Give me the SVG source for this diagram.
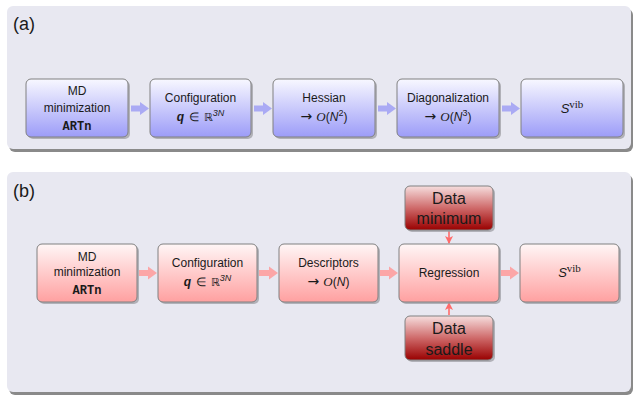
<svg xmlns="http://www.w3.org/2000/svg" width="634" height="395" viewBox="0 0 634 395">
<defs>
<linearGradient id="gBlue" x1="0" y1="0" x2="0" y2="1"><stop offset="0" stop-color="#f8f8ff"/><stop offset="1" stop-color="#9c9cf8"/></linearGradient>
<linearGradient id="gRed" x1="0" y1="0" x2="0" y2="1"><stop offset="0" stop-color="#fff6f6"/><stop offset="1" stop-color="#ffa0a0"/></linearGradient>
<linearGradient id="gData" x1="0" y1="0" x2="0" y2="1"><stop offset="0" stop-color="#f6dede"/><stop offset="0.5" stop-color="#cf6a6a"/><stop offset="1" stop-color="#990000"/></linearGradient>
<marker id="mh" markerWidth="8" markerHeight="8" refX="7" refY="4" orient="auto" markerUnits="userSpaceOnUse"><path d="M0,0 L8,4 L0,8 L2,4 Z" fill="#ff6a6a"/></marker>
</defs>
<style>
.panel{fill:#e8e8f1}
.pshadow{fill:#8a8a8a}
.bshadow{fill:#9a9aa0;opacity:0.7}
.box{stroke:#808080;stroke-width:1}
.blue{fill:url(#gBlue)}
.red{fill:url(#gRed)}
.data{fill:url(#gData)}
text{font-family:"Liberation Sans",Arial,sans-serif;font-size:12px;fill:#1a1a1a;text-anchor:middle}
.lbl{font-size:18px;text-anchor:start}
.mono{font-family:"Liberation Mono","Courier New",monospace;font-size:12px;font-weight:bold}
.big{font-size:16px}
.it{font-style:italic}
.serif{font-family:"Liberation Serif","Times New Roman",serif}
.dj{font-family:"DejaVu Sans",sans-serif;font-size:11px}
.arw{font-family:"DejaVu Sans",sans-serif;font-size:14px}
.arB{fill:#9f9ff5;opacity:0.85}
.arR{fill:#ff9a9a;opacity:0.85}
.vline{stroke:#ff6a6a;stroke-width:1.6;fill:none}
</style>

<!-- Panel (a) -->
<g id="panelA">
<rect class="pshadow" x="9" y="9" width="624" height="143" rx="6"/>
<rect class="panel" x="7" y="6" width="624" height="143" rx="6"/>
<text class="lbl" x="13" y="30">(a)</text>
</g>

<!-- Panel (b) -->
<g id="panelB">
<rect class="pshadow" x="9" y="175" width="624" height="220" rx="6"/>
<rect class="panel" x="7" y="172" width="624" height="220" rx="6"/>
<text class="lbl" x="13" y="197">(b)</text>
</g>

<!-- connectors -->
<g id="connectors">
<path class="arB" d="M131,105.5 H140 V102 L149,108.5 L140,115 V111.5 H131 Z"/>
<path class="arB" d="M254,105.5 H263 V102 L272,108.5 L263,115 V111.5 H254 Z"/>
<path class="arB" d="M378,105.5 H387 V102 L396,108.5 L387,115 V111.5 H378 Z"/>
<path class="arB" d="M502,105.5 H511 V102 L520,108.5 L511,115 V111.5 H502 Z"/>
<path class="arR" d="M139,270 H148 V266.5 L157,273 L148,279.5 V276 H139 Z"/>
<path class="arR" d="M259,270 H269 V266.5 L278,273 L269,279.5 V276 H259 Z"/>
<path class="arR" d="M380,270 H389 V266.5 L398,273 L389,279.5 V276 H380 Z"/>
<path class="arR" d="M501,270 H510 V266.5 L519,273 L510,279.5 V276 H501 Z"/>
<line class="vline" x1="449" y1="231" x2="449" y2="243" marker-end="url(#mh)"/>
<line class="vline" x1="449" y1="315" x2="449" y2="303" marker-end="url(#mh)"/>
</g>

<!-- Nodes (a) -->
<g id="a1">
<rect class="bshadow" x="28" y="81" width="102" height="58" rx="5"/>
<rect class="box blue" x="26" y="79" width="102" height="58" rx="5"/>
<text x="77" y="95">MD</text>
<text x="77" y="112">minimization</text>
<text class="mono" x="77" y="130">ARTn</text>
</g>
<g id="a2">
<rect class="bshadow" x="152" y="81" width="101" height="58" rx="5"/>
<rect class="box blue" x="150" y="79" width="101" height="58" rx="5"/>
<text x="200.5" y="102">Configuration</text>
<text x="200.5" y="121"><tspan class="it" font-weight="bold">q</tspan><tspan dx="5">∈</tspan><tspan dx="5" class="dj">ℝ</tspan><tspan class="it" font-size="9" dy="-5">3N</tspan></text>
</g>
<g id="a3">
<rect class="bshadow" x="275" y="81" width="102" height="58" rx="5"/>
<rect class="box blue" x="273" y="79" width="102" height="58" rx="5"/>
<text x="324" y="102">Hessian</text>
<text x="324" y="121"><tspan class="arw">→</tspan><tspan dx="4" class="serif it" font-size="13">O</tspan>(<tspan class="it">N</tspan><tspan font-size="9" dy="-5">2</tspan><tspan dy="5">)</tspan></text>
</g>
<g id="a4">
<rect class="bshadow" x="399" y="81" width="102" height="58" rx="5"/>
<rect class="box blue" x="397" y="79" width="102" height="58" rx="5"/>
<text x="448" y="102">Diagonalization</text>
<text x="448" y="121"><tspan class="arw">→</tspan><tspan dx="4" class="serif it" font-size="13">O</tspan>(<tspan class="it">N</tspan><tspan font-size="9" dy="-5">3</tspan><tspan dy="5">)</tspan></text>
</g>
<g id="a5">
<rect class="bshadow" x="523" y="81" width="102" height="58" rx="5"/>
<rect class="box blue" x="521" y="79" width="102" height="58" rx="5"/>
<text x="572" y="113"><tspan class="it" font-size="13">S</tspan><tspan class="serif" font-size="11" dy="-5">vib</tspan></text>
</g>

<!-- Nodes (b) -->
<g id="b1">
<rect class="bshadow" x="39" y="246" width="100" height="58" rx="5"/>
<rect class="box red" x="37" y="244" width="100" height="58" rx="5"/>
<text x="87" y="261">MD</text>
<text x="87" y="276">minimization</text>
<text class="mono" x="87" y="294">ARTn</text>
</g>
<g id="b2">
<rect class="bshadow" x="160" y="246" width="99" height="58" rx="5"/>
<rect class="box red" x="158" y="244" width="99" height="58" rx="5"/>
<text x="207.5" y="267">Configuration</text>
<text x="207.5" y="286"><tspan class="it" font-weight="bold">q</tspan><tspan dx="5">∈</tspan><tspan dx="5" class="dj">ℝ</tspan><tspan class="it" font-size="9" dy="-5">3N</tspan></text>
</g>
<g id="b3">
<rect class="bshadow" x="281" y="246" width="99" height="58" rx="5"/>
<rect class="box red" x="279" y="244" width="99" height="58" rx="5"/>
<text x="328.5" y="267">Descriptors</text>
<text x="328.5" y="286"><tspan class="arw">→</tspan><tspan dx="4" class="serif it" font-size="13">O</tspan>(<tspan class="it">N</tspan>)</text>
</g>
<g id="b4">
<rect class="bshadow" x="401" y="246" width="100" height="58" rx="5"/>
<rect class="box red" x="399" y="244" width="100" height="58" rx="5"/>
<text x="449" y="277">Regression</text>
</g>
<g id="b5">
<rect class="bshadow" x="522" y="246" width="99" height="58" rx="5"/>
<rect class="box red" x="520" y="244" width="99" height="58" rx="5"/>
<text x="569.5" y="277"><tspan class="it" font-size="13">S</tspan><tspan class="serif" font-size="11" dy="-5">vib</tspan></text>
</g>
<g id="dataMin">
<rect class="bshadow" x="407" y="188" width="88" height="44" rx="5"/>
<rect class="box data" x="405" y="186" width="88" height="44" rx="5"/>
<text class="big" x="449" y="204">Data</text>
<text class="big" x="449" y="224">minimum</text>
</g>
<g id="dataSaddle">
<rect class="bshadow" x="407" y="318" width="88" height="44" rx="5"/>
<rect class="box data" x="405" y="316" width="88" height="44" rx="5"/>
<text class="big" x="449" y="334">Data</text>
<text class="big" x="449" y="355">saddle</text>
</g>
</svg>
